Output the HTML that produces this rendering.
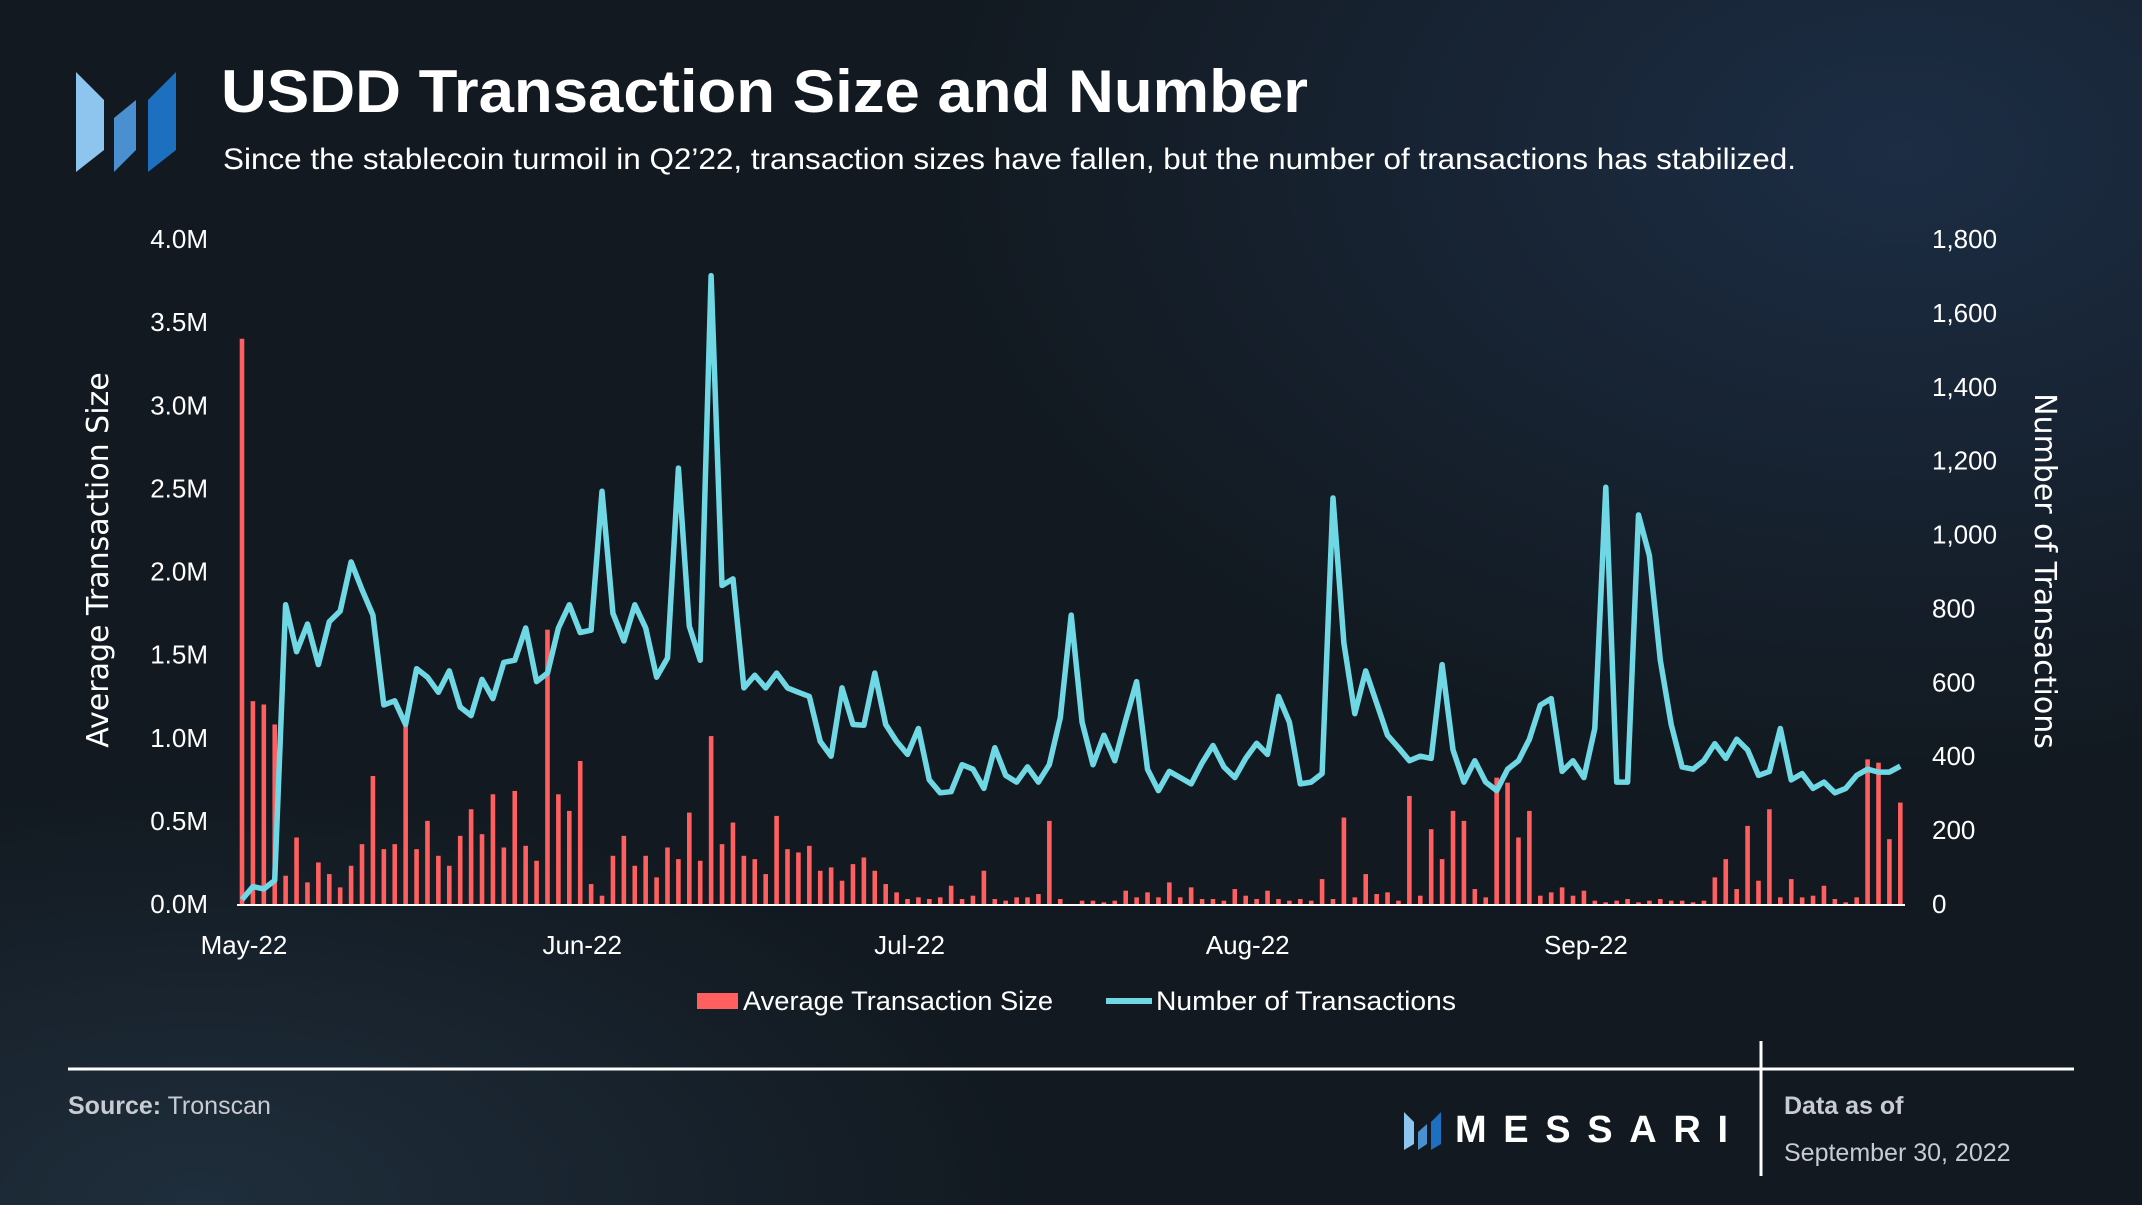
<!DOCTYPE html>
<html><head><meta charset="utf-8"><style>
html,body{margin:0;padding:0}
body{width:2142px;height:1205px;overflow:hidden;position:relative;font-family:"Liberation Sans",sans-serif;color:#fff;
background:radial-gradient(ellipse 1400px 900px at 1900px 150px,#1c2d44 0%,rgba(28,45,68,0) 70%),radial-gradient(ellipse 1200px 600px at 200px 1200px,#1f2e3c 0%,rgba(31,46,60,0) 70%),#121920;}
.abs{position:absolute}
</style></head><body>
<svg class="abs" style="left:0;top:0" width="2142" height="1205">
  <g>
    <polygon points="76,72 104,100 104,150 76,172" fill="#8ec5ef"/>
    <polygon points="114,118 136,100 136,150 114,172" fill="#4a8fd0"/>
    <polygon points="148,100 176,72 176,150 148,172" fill="#1d6fc0"/>
  </g>
  <text x="221" y="112" font-size="60" font-weight="bold" fill="#fff" textLength="1087" lengthAdjust="spacingAndGlyphs">USDD Transaction Size and Number</text>
  <text x="223" y="169" font-size="30" fill="#fff" textLength="1573" lengthAdjust="spacingAndGlyphs">Since the stablecoin turmoil in Q2’22, transaction sizes have fallen, but the number of transactions has stabilized.</text>
  <g id="leftTicks"></g>
  <g id="rightTicks"></g>
  <g id="xTicks"></g>
  <text transform="translate(108,560) rotate(-90)" text-anchor="middle" font-size="30" font-family="DejaVu Sans,sans-serif" fill="#fff">Average Transaction Size</text>
  <text transform="translate(2035,571) rotate(90)" text-anchor="middle" font-size="30" font-family="DejaVu Sans,sans-serif" fill="#fff">Number of Transactions</text>
  <g id="bars"></g>
  <line x1="237" y1="905" x2="1905" y2="905" stroke="#fff" stroke-width="2"/>
  <path id="txLine" fill="none" stroke="#6fd8e4" stroke-width="5.5" stroke-linejoin="round"/>
  <g>
    <rect x="697" y="993" width="41" height="16" fill="#ff5f5f"/>
    <text x="743" y="1010" font-size="27" fill="#fff" textLength="310" lengthAdjust="spacingAndGlyphs">Average Transaction Size</text>
    <line x1="1106" y1="1001" x2="1152" y2="1001" stroke="#6fd8e4" stroke-width="6"/>
    <text x="1156" y="1010" font-size="27" fill="#fff" textLength="300" lengthAdjust="spacingAndGlyphs">Number of Transactions</text>
  </g>
  <line x1="68" y1="1069" x2="2074" y2="1069" stroke="#fff" stroke-width="3"/>
  <line x1="1761" y1="1041" x2="1761" y2="1176" stroke="#fff" stroke-width="3"/>
  <text x="68" y="1114" font-size="25" fill="#c8ccd2"><tspan font-weight="bold">Source:</tspan> Tronscan</text>
  <g>
    <polygon points="1404,1112 1414,1122 1414,1144 1404,1150" fill="#8ec5ef"/>
    <polygon points="1418,1132 1427,1124 1427,1144 1418,1150" fill="#4a8fd0"/>
    <polygon points="1431,1122 1441,1112 1441,1144 1431,1150" fill="#1d6fc0"/>
    <text x="1455" y="1142" font-size="38" font-weight="bold" textLength="273" lengthAdjust="spacing" fill="#fff">MESSARI</text>
  </g>
  <text x="1784" y="1114" font-size="25" font-weight="bold" fill="#c8ccd2">Data as of</text>
  <text x="1784" y="1161" font-size="25" fill="#c8ccd2">September 30, 2022</text>
</svg>
<script>
const avgSize=[3.4,1.22,1.2,1.08,0.17,0.4,0.13,0.25,0.18,0.1,0.23,0.36,0.77,0.33,0.36,1.1,0.33,0.5,0.29,0.23,0.41,0.57,0.42,0.66,0.34,0.68,0.35,0.26,1.65,0.66,0.56,
0.86,0.12,0.05,0.29,0.41,0.23,0.29,0.16,0.34,0.27,0.55,0.26,1.01,0.36,0.49,0.29,0.27,0.18,0.53,0.33,0.31,0.35,0.2,0.22,0.14,0.24,0.28,0.2,0.12,0.07,
0.03,0.04,0.03,0.04,0.11,0.03,0.05,0.2,0.03,0.02,0.04,0.04,0.06,0.5,0.03,0,0.02,0.02,0.01,0.02,0.08,0.04,0.07,0.04,0.13,0.04,0.1,0.03,0.03,0.02,0.09,
0.05,0.03,0.08,0.03,0.02,0.03,0.02,0.15,0.03,0.52,0.04,0.18,0.06,0.07,0.02,0.65,0.05,0.45,0.27,0.56,0.5,0.09,0.04,0.76,0.73,0.4,0.56,0.05,0.07,0.1,0.05,0.08,
0.02,0.01,0.02,0.03,0.01,0.02,0.03,0.02,0.02,0.01,0.02,0.16,0.27,0.09,0.47,0.14,0.57,0.04,0.15,0.04,0.05,0.11,0.03,0.01,0.04,0.87,0.85,0.39,0.61];
const txCount=[12,47,41,64,810,683,758,648,764,793,926,851,782,539,550,486,637,614,573,631,533,510,608,556,654,660,747,602,625,747,810,
735,741,1117,787,712,810,747,614,666,1180,752,660,1701,862,880,585,619,585,625,585,573,562,440,400,585,486,484,625,486,440,
405,475,336,301,304,377,365,313,423,348,330,371,330,377,504,782,492,377,457,388,498,602,365,307,359,342,325,382,429,371,342,
394,435,405,562,492,325,330,353,1099,706,515,631,544,457,423,388,400,394,648,417,330,388,330,307,365,388,446,538,556,359,388,342,475,1128,
330,330,1053,943,660,486,371,365,388,434,394,446,417,348,359,475,336,353,313,330,301,313,348,365,357,357,373];
const leftTickVals=[0,0.5,1.0,1.5,2.0,2.5,3.0,3.5,4.0];
const leftTickLabels=["0.0M","0.5M","1.0M","1.5M","2.0M","2.5M","3.0M","3.5M","4.0M"];
const rightTickVals=[0,200,400,600,800,1000,1200,1400,1600,1800];
const rightTickLabels=["0","200","400","600","800","1,000","1,200","1,400","1,600","1,800"];
const monthIdx=[0,31,61,92,123];
const monthLabels=["May-22","Jun-22","Jul-22","Aug-22","Sep-22"];

const NS="http://www.w3.org/2000/svg";
const X0=242,DX=10.91,Y0=904,YT=239;
const xs=i=>X0+DX*i;
const yL=v=>Y0-(Y0-YT)*v/4;
const yR=v=>Y0-(Y0-YT)*v/1800;
function mk(tag,attrs,parent,txt){const e=document.createElementNS(NS,tag);for(const k in attrs)e.setAttribute(k,attrs[k]);if(txt!==undefined)e.textContent=txt;parent.appendChild(e);return e;}
const lt=document.getElementById('leftTicks');
leftTickVals.forEach((v,i)=>{const t=mk('text',{x:208,y:yL(v)+9,'text-anchor':'end','font-size':26,fill:'#fff'},lt,leftTickLabels[i]);

});
const rt=document.getElementById('rightTicks');
rightTickVals.forEach((v,i)=>{const t=mk('text',{x:1932,y:yR(v)+9,'font-size':26,fill:'#fff'},rt,rightTickLabels[i]);

});
const xt=document.getElementById('xTicks');
monthIdx.forEach((d,i)=>{const t=mk('text',{x:xs(d)+2,y:954,'text-anchor':'middle','font-size':26,fill:'#fff'},xt,monthLabels[i]);

});
const bg=document.getElementById('bars');
avgSize.forEach((v,i)=>{const y=yL(v);const r=mk('rect',{x:xs(i)-2.3,y:y,width:4.6,height:Math.max(0,Y0-y),fill:'#ff5f5f'},bg);

});
document.getElementById('txLine').setAttribute('d',txCount.map((v,i)=>(i?'L':'M')+xs(i).toFixed(1)+','+yR(v).toFixed(1)).join(''));
</script>
</body></html>
